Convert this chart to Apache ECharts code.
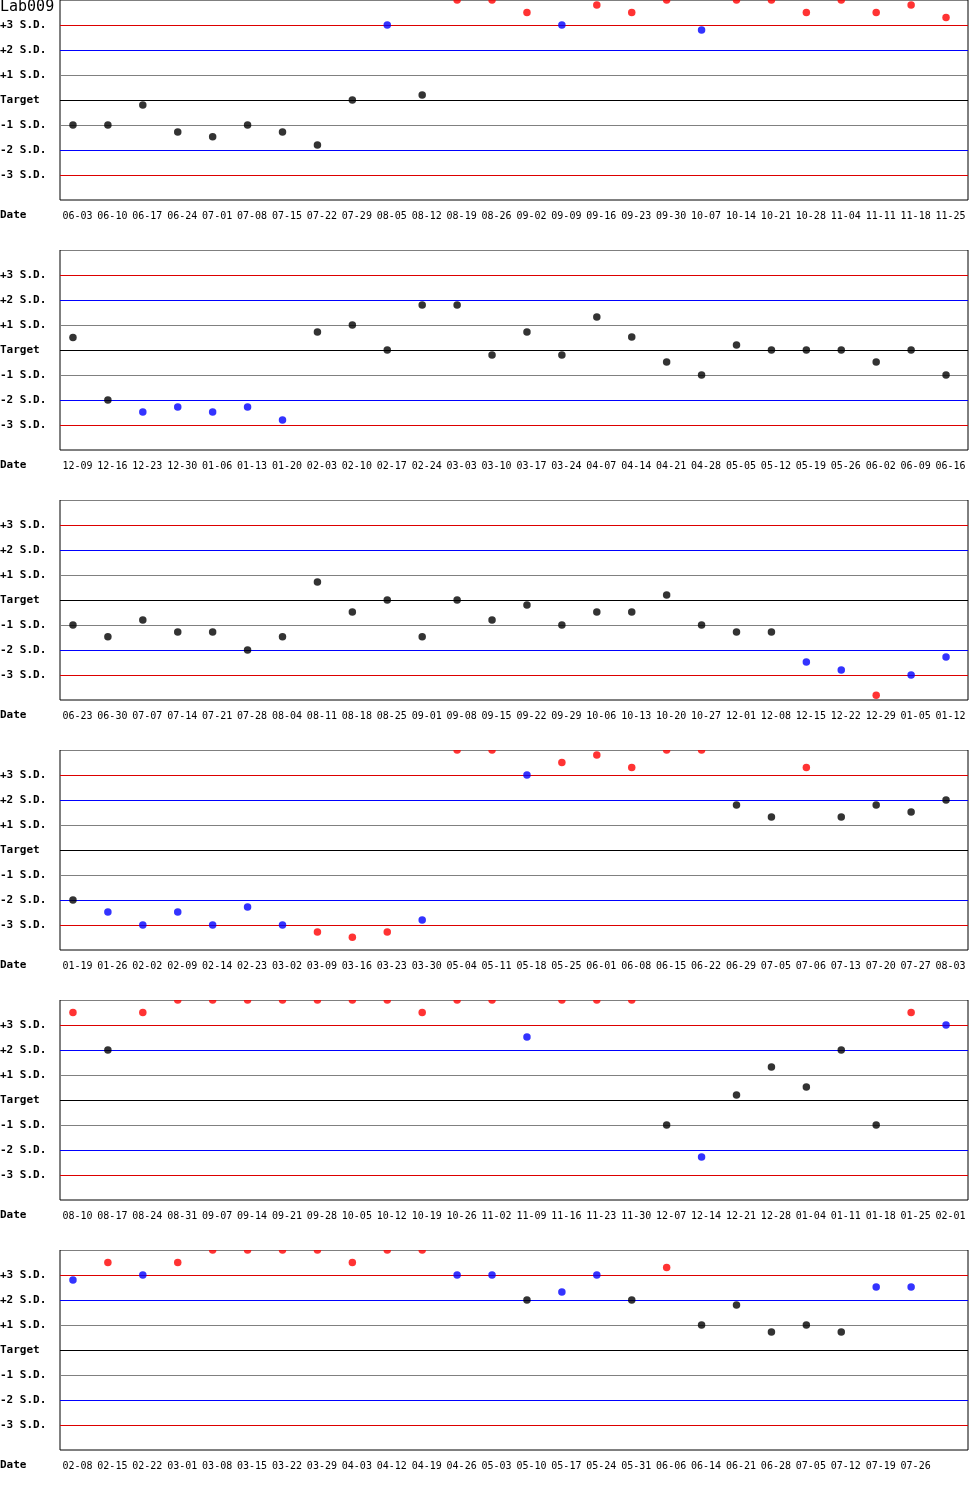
<!DOCTYPE html>
<html>
<head>
<meta charset="utf-8">
<script src="https://cdn.jsdelivr.net/npm/echarts@6/dist/echarts.min.js"></script>
<style>
html,body{margin:0;padding:0;background:#fff;}
#chart{width:970px;height:1500px;}
</style>
</head>
<body>
<div id="chart"></div>
<script>
const chartTitle = 'Lab009';
const yLabels = ['-3 S.D.', '-2 S.D.', '-1 S.D.', 'Target', '+1 S.D.', '+2 S.D.', '+3 S.D.'];
const axisName = 'Date';

const dates1 = ['06-03','06-10','06-17','06-24','07-01','07-08','07-15','07-22','07-29','08-05','08-12','08-19','08-26','09-02','09-09','09-16','09-23','09-30','10-07','10-14','10-21','10-28','11-04','11-11','11-18','11-25'];
const vals1 = [-1.0,-1.0,-0.2,-1.28,-1.47,-1.0,-1.28,-1.8,0,3.0,0.2,4,4,3.5,3.0,3.8,3.5,4,2.8,4,4,3.5,4,3.5,3.8,3.3];

const dates2 = ['12-09','12-16','12-23','12-30','01-06','01-13','01-20','02-03','02-10','02-17','02-24','03-03','03-10','03-17','03-24','04-07','04-14','04-21','04-28','05-05','05-12','05-19','05-26','06-02','06-09','06-16'];
const vals2 = [0.5,-2.0,-2.48,-2.28,-2.48,-2.28,-2.8,0.72,1.0,0,1.8,1.8,-0.2,0.72,-0.2,1.32,0.52,-0.48,-1.0,0.2,0,0,0,-0.48,0,-1.0];

const dates3 = ['06-23','06-30','07-07','07-14','07-21','07-28','08-04','08-11','08-18','08-25','09-01','09-08','09-15','09-22','09-29','10-06','10-13','10-20','10-27','12-01','12-08','12-15','12-22','12-29','01-05','01-12'];
const vals3 = [-1,-1.47,-0.8,-1.28,-1.28,-2.0,-1.47,0.72,-0.48,0,-1.47,0,-0.8,-0.2,-1,-0.48,-0.48,0.2,-1,-1.28,-1.28,-2.48,-2.8,-3.81,-3.0,-2.28];

const dates4 = ['01-19','01-26','02-02','02-09','02-14','02-23','03-02','03-09','03-16','03-23','03-30','05-04','05-11','05-18','05-25','06-01','06-08','06-15','06-22','06-29','07-05','07-06','07-13','07-20','07-27','08-03'];
const vals4 = [-2.0,-2.48,-3.0,-2.48,-3.0,-2.28,-3.0,-3.28,-3.49,-3.28,-2.8,4,4,3.0,3.5,3.8,3.3,4,4,1.8,1.32,3.3,1.32,1.8,1.52,2.0];

const dates5 = ['08-10','08-17','08-24','08-31','09-07','09-14','09-21','09-28','10-05','10-12','10-19','10-26','11-02','11-09','11-16','11-23','11-30','12-07','12-14','12-21','12-28','01-04','01-11','01-18','01-25','02-01'];
const vals5 = [3.5,2.0,3.5,4,4,4,4,4,4,4,3.5,4,4,2.52,4,4,4,-1,-2.28,0.2,1.32,0.52,2.0,-1,3.5,3.0];

const dates6 = ['02-08','02-15','02-22','03-01','03-08','03-15','03-22','03-29','04-03','04-12','04-19','04-26','05-03','05-10','05-17','05-24','05-31','06-06','06-14','06-21','06-28','07-05','07-12','07-19','07-26'];
const vals6 = [2.8,3.5,3.0,3.5,4,4,4,4,3.5,4,4,3.0,3.0,2.0,2.32,3.0,2.0,3.3,1.0,1.8,0.72,1.0,0.72,2.52,2.52];

const panels = [
  {dates: dates1, vals: vals1},
  {dates: dates2, vals: vals2},
  {dates: dates3, vals: vals3},
  {dates: dates4, vals: vals4},
  {dates: dates5, vals: vals5},
  {dates: dates6, vals: vals6}
];

const SLOTS = 26;
const PANEL_H = 250;
const MONO = '"DejaVu Sans Mono", "Liberation Mono", monospace';

const refLines = [
  {v: 3, c: '#dd0000'}, {v: 2, c: '#0000ff'}, {v: 1, c: '#808080'},
  {v: 0, c: '#000000'},
  {v: -1, c: '#808080'}, {v: -2, c: '#0000ff'}, {v: -3, c: '#dd0000'}
];

const grids = [], xAxes = [], yAxes = [], series = [], graphics = [];

panels.forEach((p, k) => {
  const top = k * PANEL_H;
  grids.push({
    left: 60, top: top, width: 908, height: 200,
    show: true, borderColor: '#000', borderWidth: 1, backgroundColor: 'transparent',
    containLabel: false, outerBoundsMode: 'none'
  });
  const cats = p.dates.slice();
  while (cats.length < SLOTS) cats.push('');
  xAxes.push({
    type: 'category', gridIndex: k, data: cats, boundaryGap: true,
    axisLine: {show: false}, axisTick: {show: false}, splitLine: {show: false},
    axisLabel: {interval: 0, color: '#000', fontSize: 10, fontFamily: MONO, margin: 11}
  });
  yAxes.push({
    type: 'value', gridIndex: k, min: -4, max: 4, interval: 1,
    axisLine: {show: false}, axisTick: {show: false}, splitLine: {show: false},
    axisLabel: {
      color: '#000', fontSize: 11, fontWeight: 'bold', fontFamily: MONO,
      align: 'left', margin: 60,
      formatter: function (v) {
        const i = Math.round(v) + 3;
        return (i >= 0 && i < yLabels.length) ? yLabels[i] : '';
      }
    }
  });
  series.push({
    type: 'scatter', xAxisIndex: k, yAxisIndex: k,
    data: p.vals, symbol: 'circle', symbolSize: 7.5, symbolOffset: [-4.5, 0],
    clip: false, silent: true,
    itemStyle: {
      color: function (params) {
        const a = Math.abs(params.value);
        return a > 3 ? '#ff0000' : (a > 2 ? '#0000ff' : '#000000');
      }
    },
    z: 3,
    markLine: {
      silent: true, symbol: 'none', z: 1, animation: false,
      label: {show: false},
      data: refLines.map(r => ({yAxis: r.v, lineStyle: {color: r.c, width: 1, type: 'solid'}}))
    }
  });
  if (k > 0) {
    graphics.push({
      type: 'rect', z: 100, silent: true,
      shape: {x: 55, y: top - 6, width: 915, height: 6},
      style: {fill: '#fff'}
    });
  }
  graphics.push({
    type: 'text', z: 100, silent: true, left: 0, top: top + 210,
    style: {text: axisName, fill: '#000', font: 'bold 11px ' + MONO}
  });
});

graphics.push({
  type: 'text', z: 100, silent: true, left: 0, top: 0,
  style: {text: chartTitle, fill: '#000', font: '15px ' + MONO}
});

const chart = echarts.init(document.getElementById('chart'), null, {renderer: 'canvas'});
chart.setOption({
  animation: false,
  backgroundColor: '#fff',
  grid: grids,
  xAxis: xAxes,
  yAxis: yAxes,
  series: series,
  graphic: graphics
});
</script>
</body>
</html>
